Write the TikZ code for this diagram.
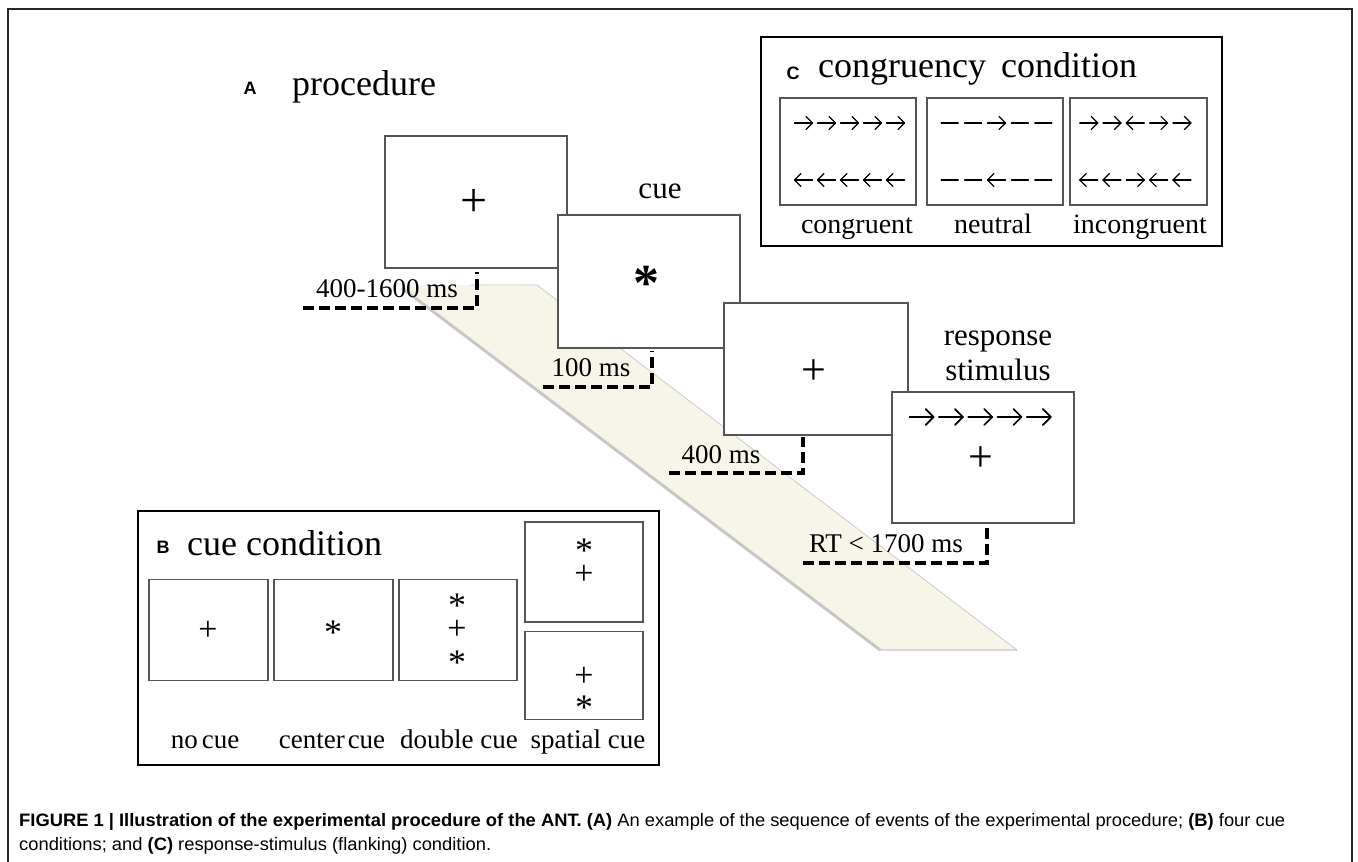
\documentclass[tikz,border=0pt]{standalone}
\usepackage{fontspec}
\usepackage{graphicx}
\setmainfont{Liberation Serif}
\newfontfamily\sansf{Liberation Sans}
\definecolor{bandcol}{RGB}{247,245,232}
\definecolor{boxgray}{RGB}{85,85,85}
\definecolor{framegray}{RGB}{40,40,40}
\newcommand{\fs}[1]{\fontsize{#1}{#1}\selectfont}
\newsavebox\capbox
\newlength\capw
% arrow glyph: x, y, dir (1 or -1), half length, head size
\newcommand\garrow[5]{%
  \draw[arrw] ({#1-(#3)*(#4)},#2) -- ({#1+(#3)*(#4)},#2);
  \draw[arrw] ({#1+(#3)*(#4)-(#3)*(#5)},{#2-(#5)}) -- ({#1+(#3)*(#4)},#2) -- ({#1+(#3)*(#4)-(#3)*(#5)},{#2+(#5)});}
\newcommand\gdash[3]{\draw[arrw] ({#1-(#3)},#2) -- ({#1+(#3)},#2);}
\begin{document}
\sbox\capbox{\sansf\fs{18}{\bfseries FIGURE 1 | Illustration of the experimental procedure of the ANT. (A)} An example of the sequence of events of the experimental procedure; {\bfseries (B)} four cue}%
\setlength\capw{\wd\capbox}%
\pgfmathsetmacro\capsc{1266/\capw}%
\begin{tikzpicture}[x=1pt,y=-1pt,
  panel/.style={draw=black, line width=2.8pt, fill=none},
  scr/.style={draw=boxgray, line width=1.3pt, fill=white, inner sep=0pt},
  subbox/.style={draw=boxgray, line width=1.6pt, fill=white, inner sep=0pt},
  dashline/.style={line width=3.6pt, dash pattern=on 11pt off 5pt},
  arrw/.style={line width=1.2pt, line cap=round, line join=round},
  letter/.style={font=\sansf\bfseries\fs{18}, inner sep=0pt},
  title/.style={font=\fs{36}, inner sep=0pt, anchor=base west},
  tlabel/.style={font=\fs{27}, inner sep=0pt, anchor=base},
  slabel/.style={font=\fs{28}, inner sep=0pt, anchor=base},
  sym/.style={inner sep=0pt},
  ssym/.style={inner sep=-1.5pt}
]
\useasboundingbox (0,0) rectangle (1358,862);
\fill[white] (0,0) rectangle (1358,862);
% outer frame
\draw[framegray, line width=2pt] (8,870) -- (8,9) -- (1352,9) -- (1352,870);

% ---------- A : procedure ----------
\node[letter] (lA) at (250,88) {A};
\node[title] (tA) at (292,95) {procedure};

% band
\fill[bandcol] (400,285) -- (537,285) -- (1017,650) -- (880,650) -- cycle;
\draw[black!30, line width=3pt, opacity=0.7] (402,288) -- (880,650);
\draw[black!15, line width=2pt] (880,650) -- (1017,650);
\draw[black!22, line width=0.7pt] (470,285) -- (537,285) -- (1017,650);

% screens
\node[scr, minimum width=182pt, minimum height=132pt] (s1) at (476,202) {};
\node[sym, font=\fs{48}] (s1p) at (474,203) {+};
\node[tlabel, font=\fs{31}] (cuelab) at (660,198) {cue};
\node[scr, minimum width=182pt, minimum height=133pt] (s2) at (649,281.5) {};
\node[sym, font=\bfseries\fs{52}, anchor=north] (s2a) at (646,266) {*};
\node[scr, minimum width=184pt, minimum height=132pt] (s3) at (816,369) {};
\node[sym, font=\fs{44}] (s3p) at (814,372) {+};
\node[tlabel, font=\fs{31}] (resp) at (998,345) {response};
\node[tlabel, font=\fs{31}] (stim) at (998,380) {stimulus};
\node[scr, minimum width=182pt, minimum height=131pt] (s4) at (983,457.5) {};
\node[sym, font=\fs{44}] (s4p) at (981,459) {+};
\begin{scope}[arrw/.append style={line width=1.7pt}]
\foreach \cx in {921.6,950.9,980.2,1009.5,1038.8}{\garrow{\cx}{417}{1}{12}{8}}
\end{scope}

% timing marks
\draw[dashline] (303,308) -- (477,308) -- (477,272);
\node[tlabel] (t1) at (387,297) {400-1600 ms};
\draw[dashline] (543,387) -- (652,387) -- (652,351);
\node[tlabel] (t2) at (591,376) {100 ms};
\draw[dashline] (669,473) -- (803,473) -- (803,437);
\node[tlabel] (t3) at (721,463) {400 ms};
\draw[dashline] (803,563) -- (987,563) -- (987,527);
\node[tlabel] (t4) at (886,552) {RT < 1700 ms};

% ---------- B : cue condition ----------
\draw[panel] (138,511) rectangle (659,765);
\node[letter] (lB) at (163,547) {B};
\node[title] (tB) at (187,555) {cue condition};
\node[subbox, minimum width=119pt, minimum height=101pt] (b1) at (208.5,630) {};
\node[subbox, minimum width=119pt, minimum height=101pt] (b2) at (333.5,630) {};
\node[subbox, minimum width=118pt, minimum height=101pt] (b3) at (458,630) {};
\node[subbox, minimum width=118pt, minimum height=100pt] (b4) at (584,572) {};
\node[subbox, minimum width=118pt, minimum height=88pt] (b5) at (584,675.5) {};
\node[ssym, font=\fs{34}] (b1p) at (208,631) {+};
\node[ssym, font=\fs{36}, anchor=north] (b2a) at (333,622.5) {*};
\node[ssym, font=\fs{36}, anchor=north] (b3a) at (457,595.5) {*};
\node[ssym, font=\fs{34}] (b3p) at (457,630) {+};
\node[ssym, font=\fs{36}, anchor=north] (b3b) at (457,652.5) {*};
\node[ssym, font=\fs{36}, anchor=north] (b4a) at (584,540.5) {*};
\node[ssym, font=\fs{34}] (b4p) at (584,575) {+};
\node[ssym, font=\fs{34}] (b5p) at (584,677) {+};
\node[ssym, font=\fs{36}, anchor=north] (b5a) at (584,697.5) {*};
\node[tlabel] (bl1) at (205,748) {no\hspace{4pt}cue};
\node[tlabel] (bl2) at (332,748) {center\hspace{3pt}cue};
\node[tlabel] (bl3) at (459,748) {double cue};
\node[tlabel] (bl4) at (588,748) {spatial cue};

% ---------- C : congruency condition ----------
\draw[panel] (761,37) rectangle (1222,246);
\node[letter] (lC) at (793,73) {C};
\node[title] (tC) at (818,77) {congruency\hspace{6pt} condition};
\node[subbox, minimum width=136pt, minimum height=107pt] (c1) at (848,151.5) {};
\node[subbox, minimum width=136pt, minimum height=107pt] (c2) at (995,151.5) {};
\node[subbox, minimum width=137pt, minimum height=107pt] (c3) at (1138.5,151.5) {};
% congruent
\foreach \i in {0,...,4}{\garrow{803.5+23*\i}{123}{1}{9}{6.5}}
\foreach \i in {0,...,4}{\garrow{803.5+23*\i}{180}{-1}{9}{6.5}}
% neutral
\foreach \cx in {949.7,973.1,1019.9,1043.3}{\gdash{\cx}{123}{8.5}\gdash{\cx}{180}{8.5}}
\garrow{996.5}{123}{1}{9}{6.5}
\garrow{996.5}{180}{-1}{9}{6.5}
% incongruent
\foreach \cx/\d in {1088.7/1,1112/1,1135.3/-1,1158.6/1,1181.9/1}{\garrow{\cx}{123}{\d}{9}{6.5}}
\foreach \cx/\d in {1088.7/-1,1112/-1,1135.3/1,1158.6/-1,1181.9/-1}{\garrow{\cx}{180}{\d}{9}{6.5}}
\node[slabel] (cl1) at (857,233) {congruent};
\node[slabel] (cl2) at (993,233) {neutral};
\node[slabel] (cl3) at (1140,233) {incongruent};

% ---------- caption ----------
\node[anchor=base west, inner sep=0pt] (cap1) at (19,826) {\scalebox{\capsc}[1]{\usebox\capbox}};
\node[anchor=base west, inner sep=0pt] (cap2) at (19,850) {\scalebox{\capsc}[1]{\sansf\fs{18}conditions; and {\bfseries (C)} response-stimulus (flanking) condition.}};
\end{tikzpicture}
\end{document}
